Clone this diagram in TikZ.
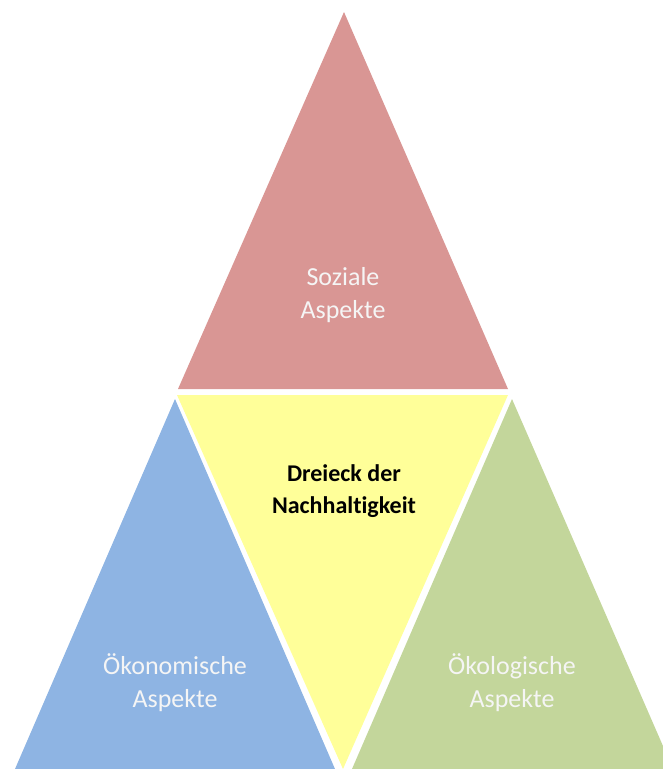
\documentclass[tikz,border=0pt]{standalone}
\usepackage{fontspec}
\setmainfont[Ligatures=NoCommon]{Carlito}
\definecolor{cred}{HTML}{D99694}
\definecolor{cblue}{HTML}{8EB4E3}
\definecolor{cgreen}{HTML}{C3D69B}
\definecolor{cyellow}{HTML}{FFFF99}
\tikzset{
  lbl/.style={text=white!96!black, font=\fontsize{26}{33}\selectfont, align=center, anchor=base, inner sep=0pt},
  mlbl/.style={text=black, font=\fontsize{24}{32}\selectfont\bfseries, align=center, anchor=base, inner sep=0pt}
}
\begin{document}
\begin{tikzpicture}[x=1pt,y=-1pt]
\useasboundingbox (0,0) rectangle (663,769);
\clip (0,0) rectangle (663,769);
% top
\fill[cred] (344,12) -- (508,389) -- (178,389) -- cycle;
% middle inverted
\fill[cyellow] (177,395) -- (508,395) -- (343,769) -- cycle;
% left
\fill[cblue] (175,399) -- (335,769) -- (15,769) -- cycle;
% right
\fill[cgreen] (512,399) -- (673,769) -- (352,769) -- cycle;
\node[lbl] (soz) at (343,318) {Soziale\\Aspekte};
\node[mlbl] (mid) at (344,513) {Dreieck der\\Nachhaltigkeit};
\node[lbl] (oek) at (175,707) {Ökonomische\\Aspekte};
\node[lbl] (oko) at (512,707) {Ökologische\\Aspekte};
\end{tikzpicture}
\end{document}
